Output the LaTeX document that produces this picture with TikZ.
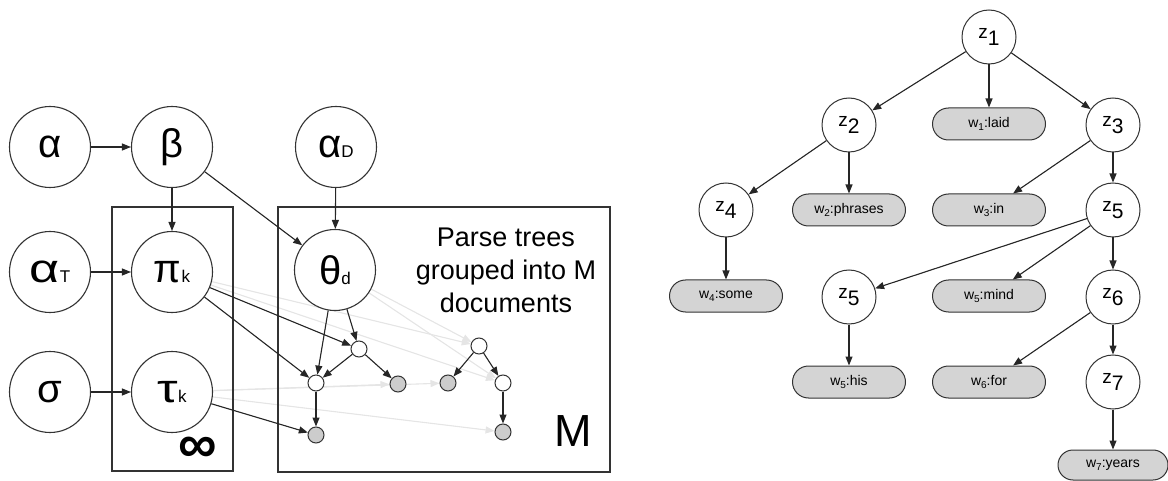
\documentclass[tikz,border=0pt]{standalone}
\usepackage{fontspec}
\setmainfont{Liberation Sans}
\usetikzlibrary{arrows.meta,shapes.misc,backgrounds}

\newcommand\fsz[1]{\fontsize{#1}{#1}\selectfont}
% small letter set on the baseline after a Greek symbol
\newcommand\vsub[1]{{\fsz{17}#1}}
% tree variable with a lowered, full-size index
\newcommand\zlab[1]{z\raisebox{-7pt}{\fsz{21}#1}}
% observed word: w with a small lowered index, then the word
\newcommand\wlab[2]{w\raisebox{-3.5pt}{\fsz{10}#1}:#2}

\begin{document}
\begin{tikzpicture}[x=1pt,y=-1pt,
  var/.style={circle,draw=black!80,fill=white,line width=1.1pt,minimum size=81pt,inner sep=0pt,font=\fsz{40}},
  dot/.style={circle,draw=black!80,fill=white,line width=1pt,minimum size=16pt,inner sep=0pt},
  obsdot/.style={dot,fill=black!20},
  zvar/.style={circle,draw=black!80,fill=white,line width=1pt,minimum size=54pt,inner sep=0pt,font=\fsz{19}},
  word/.style={rounded rectangle,draw=black!80,fill=black!17,line width=1pt,minimum width=113pt,minimum height=32pt,inner sep=0pt,font=\fsz{14}},
  plate/.style={draw=black!80,line width=1.2pt},
  arr/.style={-{Triangle[length=9pt,width=7pt]},line width=1.1pt,draw=black!85,fill=black!85},
  faint/.style={-{Triangle[length=9pt,width=7pt]},line width=1.1pt,draw=black!10,fill=black!10},
]
\useasboundingbox (0,0) rectangle (1168,481);

% plates
\draw[plate] (112,207) rectangle (233,471);
\draw[plate] (278,207) rectangle (610,472);
\node[font=\fsz{54}\bfseries] (inf) at (198,450) {∞};
\node[font=\fsz{45}] (mlab) at (573,431) {M};
\node[align=center,font=\fontsize{27}{33}\selectfont] (caption) at (506,270)
  {Parse trees\\grouped into M\\documents};

% hyperparameters and parameters
\node[var] (alpha)  at (50,147)  {α};
\node[var] (beta)   at (172,147) {β};
\node[var] (alphaD) at (336,147) {α\vsub{D}};
\node[var] (alphaT) at (50,272)  {\scalebox{1.3}[1]{α}\vsub{T}};
\node[var] (pik)    at (172,272) {π\vsub{k}};
\node[var] (sigma)  at (50,392)  {σ};
\node[var] (tauk)   at (172,392) {\scalebox{1.3}[1]{τ}\vsub{k}};
\node[var] (thetad) at (335,270) {θ\vsub{d}};

% two small parse trees inside the document plate
\node[dot]    (n1) at (359,349) {};
\node[dot]    (n2) at (316,383) {};
\node[obsdot] (g1) at (398,384) {};
\node[obsdot] (g2) at (316,435) {};
\node[dot]    (n3) at (479,346) {};
\node[obsdot] (g3) at (448,383) {};
\node[dot]    (n4) at (503,383) {};
\node[obsdot] (g4) at (503,432) {};

\draw[arr] (alpha) -- (beta);
\draw[arr] (alphaT) -- (pik);
\draw[arr] (sigma) -- (tauk);
\draw[arr] (beta) -- (pik);
\draw[arr] (alphaD) -- (thetad);
\draw[arr] (beta) -- (thetad);
\draw[arr] (pik) -- (n1);
\draw[arr] (pik) -- (n2);
\draw[arr] (tauk) -- (g2);
\draw[arr] (thetad) -- (n2);
\draw[arr] (thetad) -- (n1);
\draw[arr] (n1) -- (n2);
\draw[arr] (n1) -- (g1);
\draw[arr] (n2) -- (g2);
\draw[arr] (n3) -- (g3);
\draw[arr] (n3) -- (n4);
\draw[arr] (n4) -- (g4);

\begin{pgfonlayer}{background}
  \draw[faint] (pik) -- (n3);
  \draw[faint] (pik) -- (n4);
  \draw[faint] (thetad) -- (n3);
  \draw[faint] (thetad) -- (n4);
  \draw[faint] (tauk) -- (g1);
  \draw[faint] (tauk) -- (g3);
  \draw[faint] (tauk) -- (g4);
\end{pgfonlayer}

% parse tree of a sentence
\node[zvar] (z1)  at (989,37)  {\zlab{1}};
\node[zvar] (z2)  at (849,125) {\zlab{2}};
\node[word] (w1)  at (989,124) {\wlab{1}{laid}};
\node[zvar] (z3)  at (1113,125) {\zlab{3}};
\node[zvar] (z4)  at (726,210) {\zlab{4}};
\node[word] (w2)  at (849,210) {\wlab{2}{phrases}};
\node[word] (w3)  at (989,210) {\wlab{3}{in}};
\node[zvar] (z5)  at (1113,210) {\zlab{5}};
\node[word] (w4)  at (726,296) {\wlab{4}{some}};
\node[zvar] (z5b) at (849,297) {\zlab{5}};
\node[word] (w5)  at (989,296) {\wlab{5}{mind}};
\node[zvar] (z6)  at (1113,297) {\zlab{6}};
\node[word] (w5b) at (849,382) {\wlab{5}{his}};
\node[word] (w6)  at (989,382) {\wlab{6}{for}};
\node[zvar] (z7)  at (1113,382) {\zlab{7}};
\node[word,minimum width=110pt,minimum height=30pt] (w7) at (1113,465) {\wlab{7}{years}};

\draw[arr] (z1) -- (z2);
\draw[arr] (z1) -- (w1);
\draw[arr] (z1) -- (z3);
\draw[arr] (z2) -- (z4);
\draw[arr] (z2) -- (w2);
\draw[arr] (z3) -- (w3);
\draw[arr] (z3) -- (z5);
\draw[arr] (z4) -- (w4);
\draw[arr] (z5) -- (z5b);
\draw[arr] (z5) -- (w5);
\draw[arr] (z5) -- (z6);
\draw[arr] (z5b) -- (w5b);
\draw[arr] (z6) -- (w6);
\draw[arr] (z6) -- (z7);
\draw[arr] (z7) -- (w7);
\end{tikzpicture}
\end{document}
